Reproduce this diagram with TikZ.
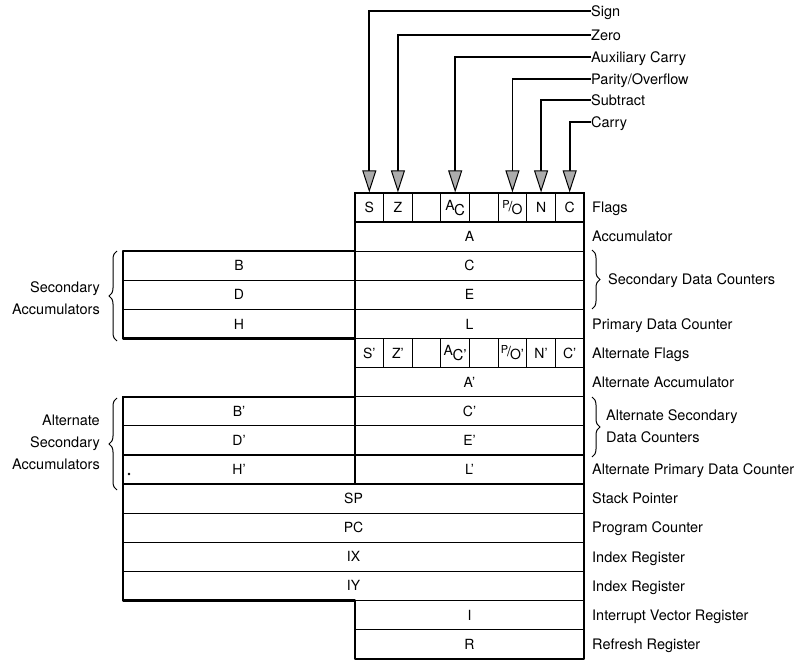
\documentclass[tikz,border=0pt]{standalone}
\usepackage{fontspec}
\setmainfont{TeX Gyre Heros}
\usetikzlibrary{arrows.meta,decorations.pathreplacing}
\newcommand{\flagAC}[1]{\raisebox{2pt}{A}\hspace{-0.5pt}\raisebox{-3pt}{\fontsize{15}{16}\selectfont C#1}}
\newcommand{\flagPO}[1]{\raisebox{3pt}{\fontsize{11}{12}\selectfont P}\hspace{-1pt}/\hspace{-1pt}\raisebox{-3pt}{O#1}}
\begin{document}
\begin{tikzpicture}[x=1pt,y=-1pt,
  reg/.style={draw, line width=1.2pt, minimum height=29.1pt, inner sep=0pt, font=\fontsize{14}{16}\selectfont},
  mainreg/.style={reg, minimum width=229pt},
  leftreg/.style={reg, minimum width=232pt},
  fullreg/.style={reg, minimum width=461pt},
  flagcell/.style={reg, minimum width=28.625pt},
  lbl/.style={anchor=west, inner sep=0pt, text height=10.5pt, text depth=0pt, font=\fontsize{14.5}{17}\selectfont},
  sidelbl/.style={inner sep=0pt, align=right, font=\fontsize{14.5}{22}\selectfont},
  flagarrow/.style={line width=1.7pt, -{Triangle[length=22pt,width=14pt,fill=gray!65,line width=1pt]}},
  outline/.style={line width=2.2pt, line join=round},
  bracestyle/.style={line width=1pt, decorate, decoration={brace, amplitude=8pt}}
]
\useasboundingbox (0,0) rectangle (807,663);
% flags
\node[flagcell] (fS)  at (369.31,207.55) {S};
\node[flagcell] (fZ)  at (397.94,207.55) {Z};
\node[flagcell] (f3)  at (426.56,207.55) {};
\node[flagcell] (fAC) at (455.19,207.55) {\flagAC{}};
\node[flagcell] (f5)  at (483.81,207.55) {};
\node[flagcell] (fPO) at (512.44,207.55) {\flagPO{}};
\node[flagcell] (fN)  at (541.06,207.55) {N};
\node[flagcell] (fC)  at (569.69,207.55) {C};
% main registers
\node[mainreg] (A) at (469.5,236.65) {A};
\node[mainreg] (C) at (469.5,265.75) {C};
\node[mainreg] (E) at (469.5,294.85) {E};
\node[mainreg] (L) at (469.5,323.95) {L};
\node[leftreg] (B) at (239,265.75) {B};
\node[leftreg] (D) at (239,294.85) {D};
\node[leftreg] (H) at (239,323.95) {H};
% alternate flags
\node[flagcell] (aS)  at (369.31,353.05) {S'};
\node[flagcell] (aZ)  at (397.94,353.05) {Z'};
\node[flagcell] (a3)  at (426.56,353.05) {};
\node[flagcell] (aAC) at (455.19,353.05) {\flagAC{'}};
\node[flagcell] (a5)  at (483.81,353.05) {};
\node[flagcell] (aPO) at (512.44,353.05) {\flagPO{'}};
\node[flagcell] (aN)  at (541.06,353.05) {N'};
\node[flagcell] (aC)  at (569.69,353.05) {C'};
\node[mainreg] (A2) at (469.5,382.15) {A'};
\node[mainreg] (C2) at (469.5,411.25) {C'};
\node[mainreg] (E2) at (469.5,440.35) {E'};
\node[mainreg] (L2) at (469.5,469.45) {L'};
\node[leftreg] (B2) at (239,411.25) {B'};
\node[leftreg] (D2) at (239,440.35) {D'};
\node[leftreg] (H2) at (239,469.45) {H'};
\fill (129,474) circle (1.3pt);
% full width
\node[fullreg] (SP) at (353.5,498.55) {SP};
\node[fullreg] (PC) at (353.5,527.65) {PC};
\node[fullreg] (IX) at (353.5,556.75) {IX};
\node[fullreg] (IY) at (353.5,585.85) {IY};
\node[mainreg] (I) at (469.5,614.95) {I};
\node[mainreg] (R) at (469.5,644.05) {R};
% outline
\draw[outline] (355,193) -- (584,193) -- (584,658.6) -- (355,658.6) -- (355,600.4)
  -- (123,600.4) -- (123,396.7) -- (355,396.7) -- (355,338.5) -- (123,338.5)
  -- (123,251.2) -- (355,251.2) -- cycle;
\draw[outline] (355,193) -- (355,484.5);
% flag labels and arrows
\node[lbl] (sign) at (591,11) {Sign};
\node[lbl] (zero) at (591,35) {Zero};
\node[lbl] (aux)  at (591,57) {Auxiliary Carry};
\node[lbl] (par)  at (591,79) {Parity/Overflow};
\node[lbl] (sub)  at (591,100) {Subtract};
\node[lbl] (car)  at (591,122) {Carry};
\draw[flagarrow] (sign.west) -| (fS.north);
\draw[flagarrow] (zero.west) -| (fZ.north);
\draw[flagarrow] (aux.west) -| (fAC.north);
\draw[flagarrow] (par.west) -| (fPO.north);
\draw[flagarrow] (sub.west) -| (fN.north);
\draw[flagarrow] (car.west) -| (fC.north);
% right labels
\node[lbl] at (592,207.55) {Flags};
\node[lbl] at (592,236.65) {Accumulator};
\node[lbl] at (608,279) {Secondary Data Counters};
\node[lbl] at (592,323.95) {Primary Data Counter};
\node[lbl] at (592,353.05) {Alternate Flags};
\node[lbl] at (592,382.15) {Alternate Accumulator};
\node[sidelbl, anchor=west, align=left] at (606,426) {Alternate Secondary\\Data Counters};
\node[lbl] at (592,469.45) {Alternate Primary Data Counter};
\node[lbl] at (592,498.55) {Stack Pointer};
\node[lbl] at (592,527.65) {Program Counter};
\node[lbl] at (592,556.75) {Index Register};
\node[lbl] at (592,585.85) {Index Register};
\node[lbl] at (592,614.95) {Interrupt Vector Register};
\node[lbl] at (592,644.05) {Refresh Register};
% braces
\draw[bracestyle] (592,250) -- (592,309);
\draw[bracestyle] (592,397) -- (592,457);
\draw[bracestyle] (117,341) -- (117,251);
\draw[bracestyle] (117,490) -- (117,398);
% left labels
\node[sidelbl, anchor=east] at (100,298) {Secondary\\Accumulators};
\node[sidelbl, anchor=east] at (100,442) {Alternate\\Secondary\\Accumulators};
\end{tikzpicture}
\end{document}
